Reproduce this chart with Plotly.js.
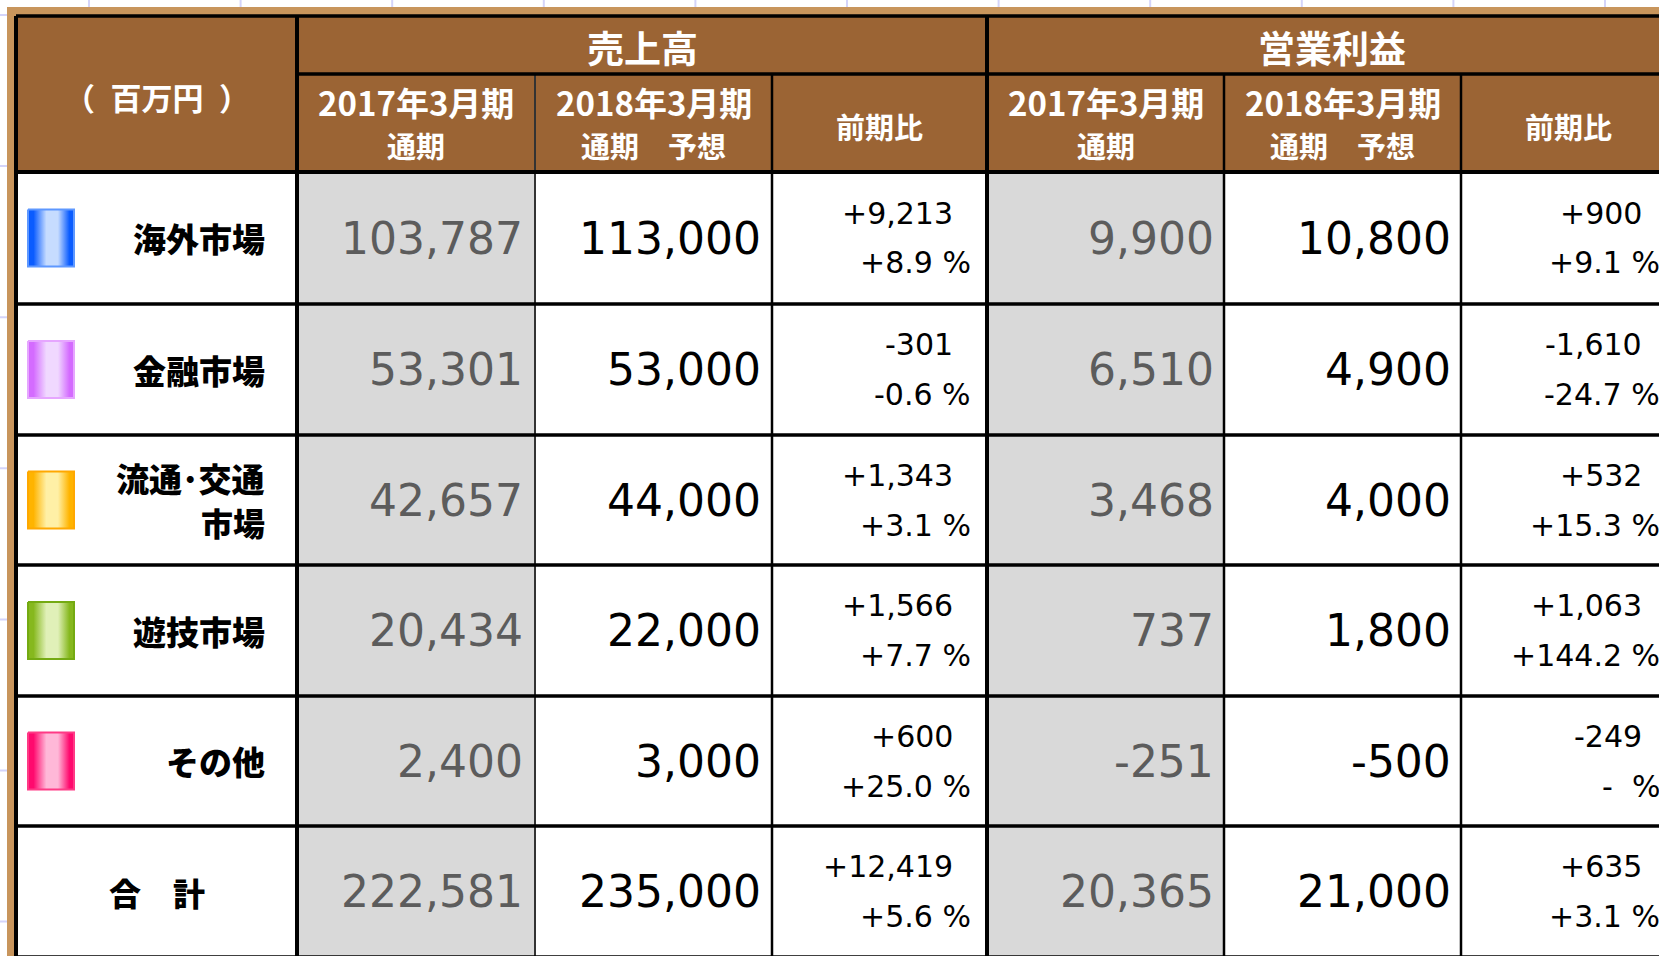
<!DOCTYPE html>
<html>
<head>
<meta charset="utf-8">
<script src="https://cdn.plot.ly/plotly-3.0.1.min.js"></script>
<style>html,body{margin:0;padding:0;background:#fff;}#chart{width:1659px;height:956px;}</style>
</head>
<body>
<div id="chart"></div>
<script>
// ---------- DATA ----------
var unitLabel = '（\u2002百万円\u2002）';
var groupTitles = ['売上高', '営業利益'];
var subHeadLine1 = ['2017年3月期', '2018年3月期', '前期比'];
var subHeadLine2 = ['通期', '通期　予想', ''];
var categories = ['海外市場', '金融市場', '流通･交通<br>市場', '遊技市場', 'その他', '合　計'];
var sales2017 = [103787, 53301, 42657, 20434, 2400, 222581];
var sales2018 = [113000, 53000, 44000, 22000, 3000, 235000];
var salesDiff = [9213, -301, 1343, 1566, 600, 12419];
var salesPct = [8.9, -0.6, 3.1, 7.7, 25.0, 5.6];
var profit2017 = [9900, 6510, 3468, 737, -251, 20365];
var profit2018 = [10800, 4900, 4000, 1800, -500, 21000];
var profitDiff = [900, -1610, 532, 1063, -249, 635];
var profitPct = [9.1, -24.7, 15.3, 144.2, null, 3.1];

// ---------- STYLE / LAYOUT CONSTANTS ----------
var W = 1659, H = 956;
var colX = [16, 297, 535, 772, 987, 1224, 1461, 1676];
var headTop = 16, headMid = 74, headBot = 172;
var rowY = [172, 304, 435, 565, 696, 826, 957];
var brown = '#9b6434', tan = '#c8955c', grayCell = '#d9d9d9';
var grayText = '#5c5c5c';
var swatchEdge = ['#0a5cff', '#d46bff', '#ffb400', '#86b81e', '#ff0a6e'];
var swatchLight = ['#c6dcff', '#f0d8ff', '#fff0a6', '#e0f0b8', '#ffb8d8'];
var swatchLine = ['#5e98ff', '#e6a6ff', '#ffa800', '#74aa12', '#ff3a86'];
var jpFont = 'Noto Sans CJK JP';
var numFont = 'DejaVu Sans';
var numWeight = 400;

function fmt(v) { return v.toLocaleString('en-US'); }
function signed(v) { return (v > 0 ? '+' : '') + fmt(v); }
function pct(v) { return v === null ? '-  %' : (v > 0 ? '+' : '') + v.toFixed(1) + ' %'; }

var shapes = [];
var ann = [];
function rect(x0, y0, x1, y1, fill) {
  shapes.push({type: 'rect', xref: 'x', yref: 'y', x0: x0, y0: y0, x1: x1, y1: y1,
    fillcolor: fill, line: {width: 0}, layer: 'below'});
}
function line(x0, y0, x1, y1, color, w) {
  shapes.push({type: 'line', xref: 'x', yref: 'y', x0: x0, y0: y0, x1: x1, y1: y1,
    line: {color: color, width: w}, layer: 'below'});
}
function text(t, x, y, xa, size, color, family, weight, align) {
  ann.push({text: t, x: x / W, y: 1 - y / H, xref: 'paper', yref: 'paper', xanchor: xa, yanchor: 'middle',
    showarrow: false, align: align || 'center', borderpad: 0,
    font: {size: size, color: color, family: family, weight: weight || 400}});
}

// background spreadsheet grid
for (var gx = 89; gx < W; gx += 151.6) line(gx, 0, gx, H, '#d4d4fa', 2);
for (var gy = 15; gy < H; gy += 151.1) line(0, gy, W, gy, '#d4d4fa', 2);
// tan frame
rect(7, 7, W + 40, H + 40, tan);
// header
rect(colX[0], headTop, colX[7], headBot, brown);
// body cells
for (var r = 0; r < 6; r++) {
  for (var c = 0; c < 7; c++) {
    var fill = (c === 1 || c === 4) ? grayCell : '#ffffff';
    rect(colX[c], rowY[r], colX[c + 1], rowY[r + 1], fill);
  }
}
// thin vertical lines
[2, 3, 5, 6].forEach(function (c) { line(colX[c], headMid, colX[c], H + 10, c === 2 ? '#333333' : '#000000', c === 2 ? 2 : 2.5); });
// horizontal lines
line(colX[1], headMid, colX[7], headMid, '#000', 3.5);
line(colX[0], headTop, colX[7], headTop, '#000', 3.5);
for (var r2 = 0; r2 < 7; r2++) line(colX[0], rowY[r2], colX[7], rowY[r2], '#000', r2 === 0 ? 4 : 3.5);
// thick vertical lines
[0, 1, 4].forEach(function (c) { line(colX[c], headTop, colX[c], H + 10, '#000', 4); });

// header texts
text(unitLabel, (colX[0] + colX[1]) / 2, 96, 'center', 31, '#fff', jpFont, 700);
text(groupTitles[0], (colX[1] + colX[4]) / 2, 47, 'center', 37, '#fff', jpFont, 700);
text(groupTitles[1], (colX[4] + colX[7]) / 2, 47, 'center', 37, '#fff', jpFont, 700);
for (var g = 0; g < 2; g++) {
  for (var s = 0; s < 3; s++) {
    var cc = 1 + g * 3 + s;
    var cx = (colX[cc] + colX[cc + 1]) / 2;
    if (subHeadLine2[s]) {
      text(subHeadLine1[s], cx, 102, 'center', 33, '#fff', jpFont, 700);
      text(subHeadLine2[s], cx, 145, 'center', 29, '#fff', jpFont, 700);
    } else {
      text(subHeadLine1[s], cx, 126, 'center', 29, '#fff', jpFont, 700);
    }
  }
}

// body texts
for (var i = 0; i < categories.length; i++) {
  var cy = (rowY[i] + rowY[i + 1]) / 2;
  var parts = categories[i].split('<br>');
  if (i < 5) {
    if (parts.length === 1) text(parts[0], 266, cy, 'right', 33, '#000', jpFont, 900);
    else {
      text(parts[0], 266, cy - 22, 'right', 33, '#000', jpFont, 900);
      text(parts[1], 266, cy + 21.5, 'right', 32, '#000', jpFont, 900);
    }
  } else text(categories[i], (colX[0] + colX[1]) / 2, cy, 'center', 32, '#000', jpFont, 900);
  text(fmt(sales2017[i]), colX[2] - 11, cy, 'right', 44, grayText, numFont, numWeight);
  text(fmt(sales2018[i]), colX[3] - 10, cy, 'right', 44, '#000', numFont, numWeight);
  text(signed(salesDiff[i]), colX[4] - 33, cy - 25, 'right', 30, '#000', numFont, numWeight);
  text(pct(salesPct[i]), colX[4] - 15, cy + 25, 'right', 30, '#000', numFont, numWeight);
  text(fmt(profit2017[i]), colX[5] - 9, cy, 'right', 44, grayText, numFont, numWeight);
  text(fmt(profit2018[i]), colX[6] - 9, cy, 'right', 44, '#000', numFont, numWeight);
  text(signed(profitDiff[i]), colX[7] - 33, cy - 25, 'right', 30, '#000', numFont, numWeight);
  text(pct(profitPct[i]), colX[7] - 15, cy + 25, 'right', 30, '#000', numFont, numWeight);
}

// colour swatches (gradient-filled rectangles)
var traces = [];
for (var k = 0; k < 5; k++) {
  var mid = (rowY[k] + rowY[k + 1]) / 2;
  var x0 = 28, x1 = 74, y0 = mid - 28.5, y1 = mid + 28.5;
  traces.push({
    type: 'scatter', mode: 'lines', x: [x0, x1, x1, x0, x0], y: [y0, y0, y1, y1, y0],
    fill: 'toself', line: {color: swatchLine[k], width: 2}, hoverinfo: 'skip', showlegend: false,
    fillgradient: {type: 'horizontal', colorscale: [[0, swatchEdge[k]], [0.12, swatchEdge[k]], [0.4, swatchLight[k]],
      [0.65, swatchLight[k]], [0.9, swatchEdge[k]], [1, swatchEdge[k]]]}
  });
}

var layout = {
  width: W, height: H, margin: {l: 0, r: 0, t: 0, b: 0},
  paper_bgcolor: '#ffffff', plot_bgcolor: '#ffffff',
  xaxis: {range: [0, W], visible: false, fixedrange: true},
  yaxis: {range: [H, 0], visible: false, fixedrange: true},
  shapes: shapes, annotations: ann, showlegend: false
};
Plotly.newPlot('chart', traces, layout, {displayModeBar: false, staticPlot: true});
</script>
</body>
</html>
